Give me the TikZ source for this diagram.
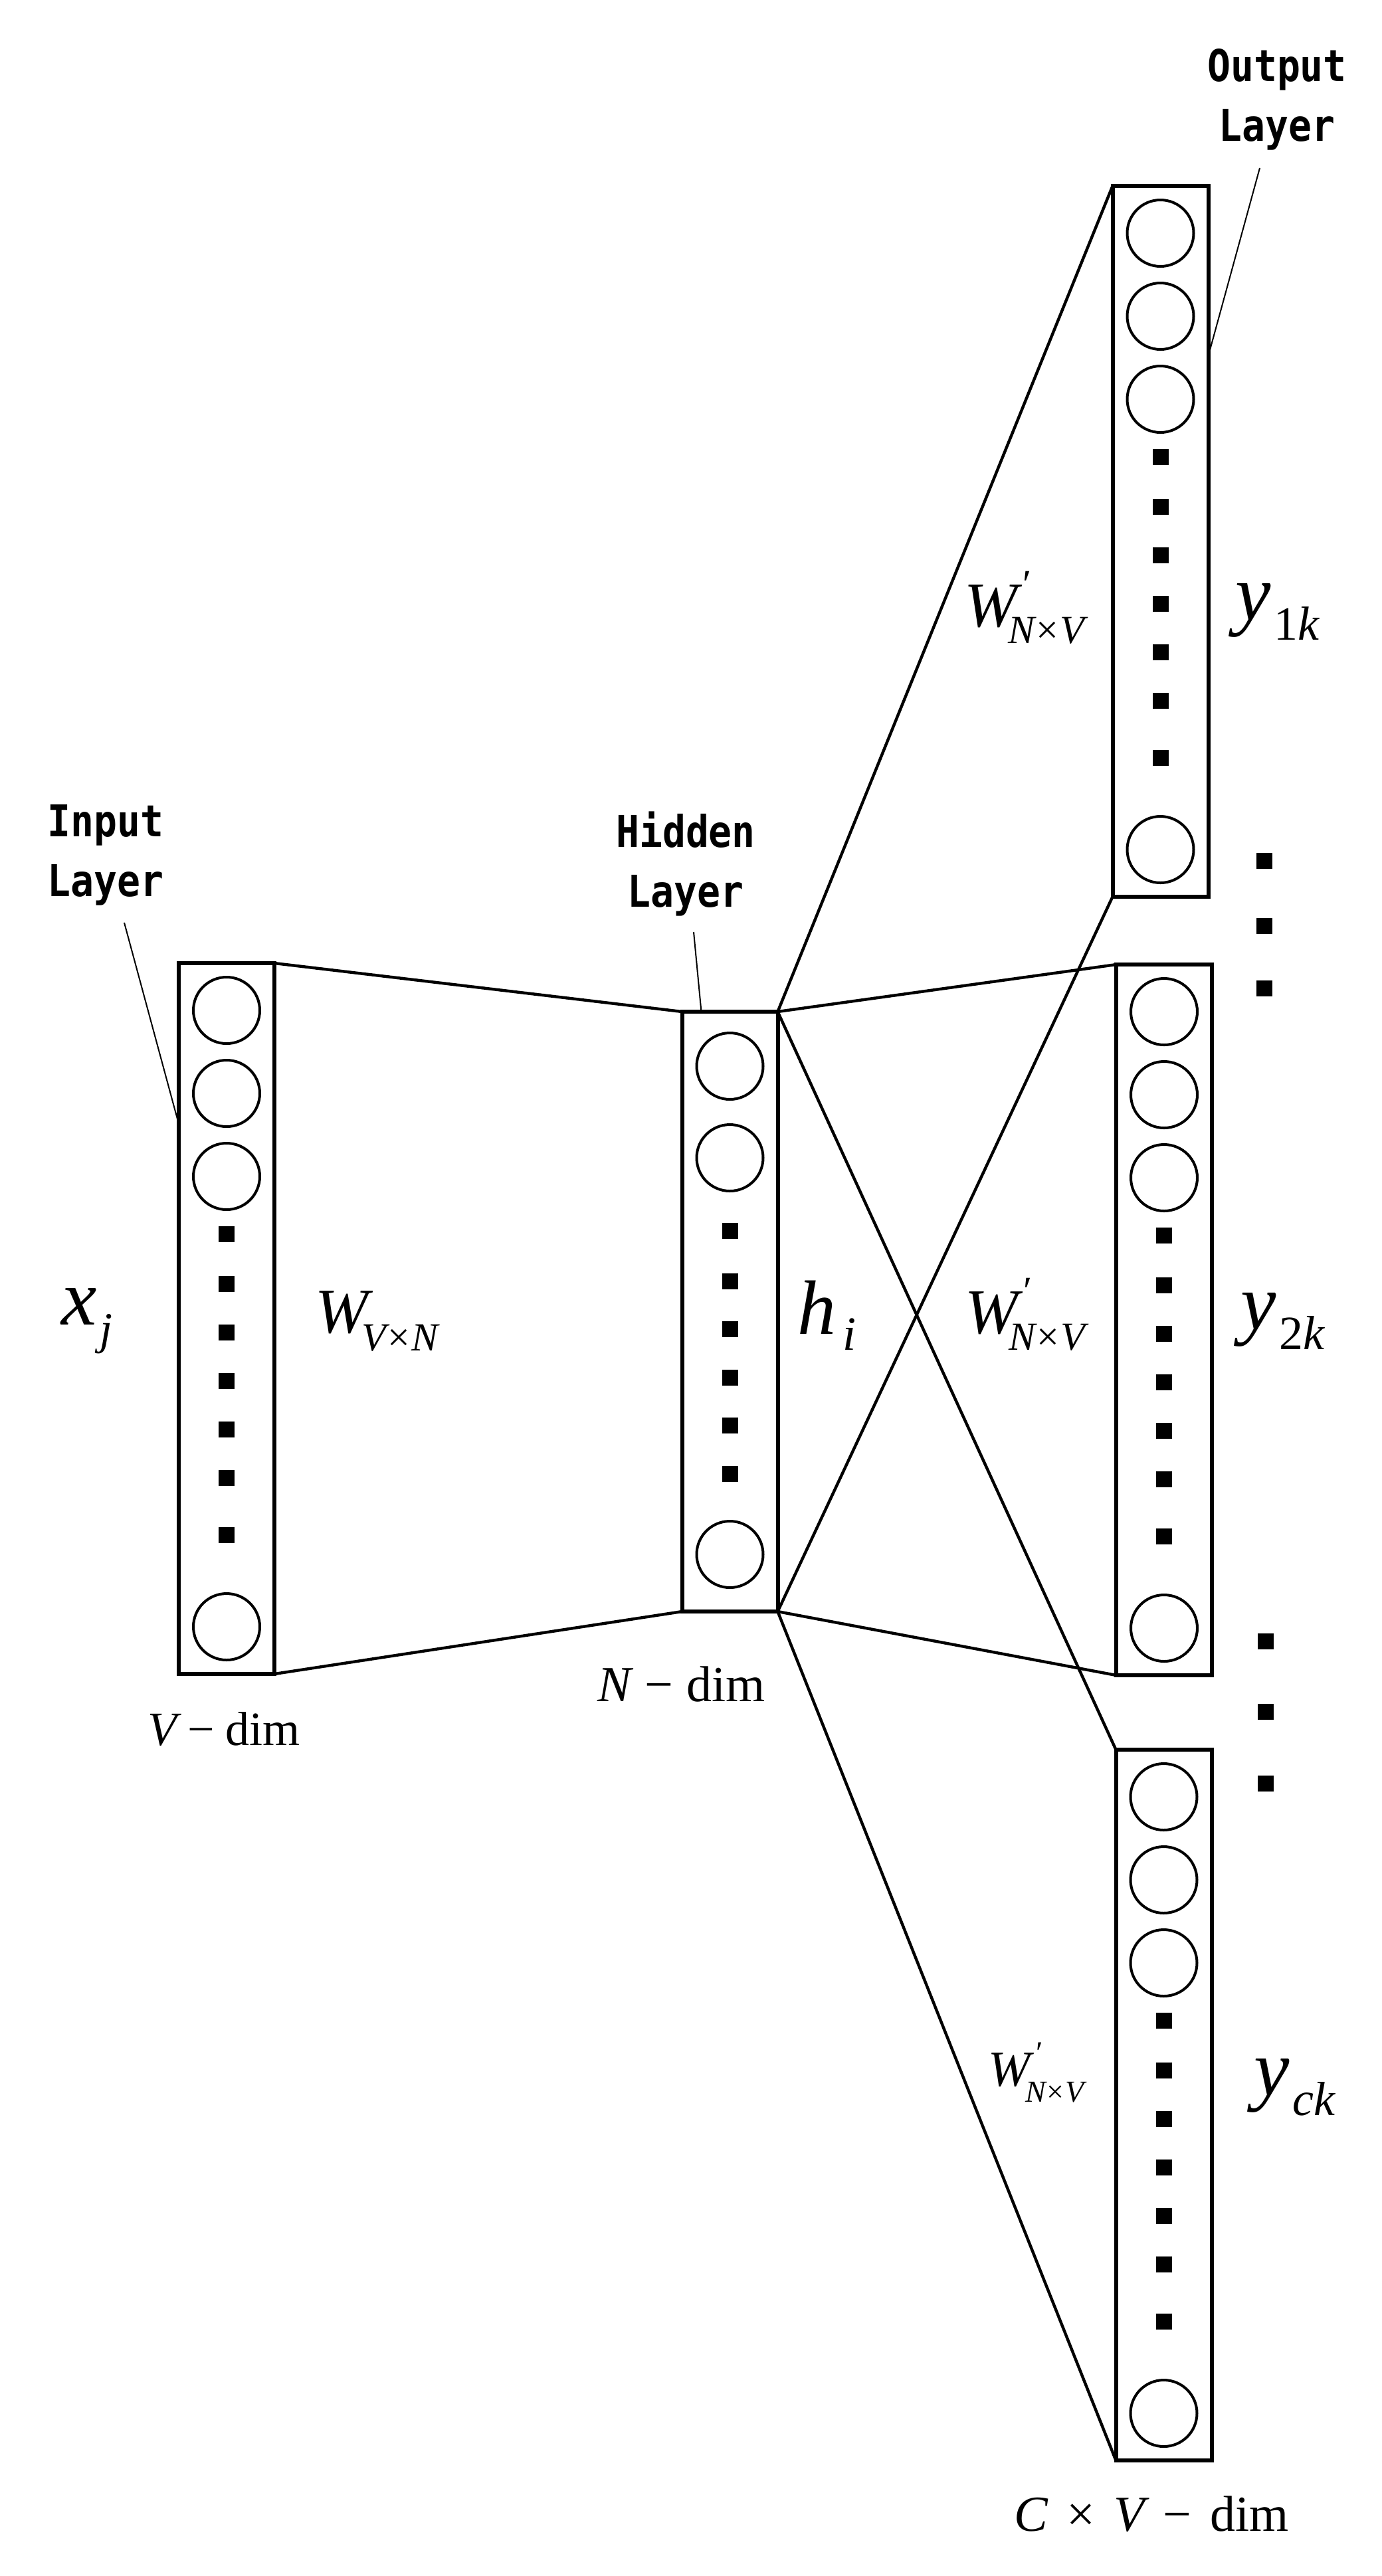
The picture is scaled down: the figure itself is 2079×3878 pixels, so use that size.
\documentclass[tikz,border=0pt]{standalone}
\usepackage{fontspec}
\setmainfont{Liberation Serif}
\newfontfamily\lblfont{DejaVu Sans Mono}
\newcommand\mycol[3]{% name, cx, top
  \node[colbox] (#1) at (#2,#3+535) {};
  \foreach \o [count=\i] in {71,196,321,999}
    \node[neuron] (#1-c\i) at (#2,#3+\o) {};
  \foreach \o [count=\i] in {408,483,556,629,702,775,861}
    \node[dotsq] (#1-d\i) at (#2,#3+\o) {};
}
% #1 W size, #2 prime size, #3 prime raise, #4 sub size, #5 sub lower, #6 sub kern, #7 prime kern
\newcommand\wprime[7]{%
  {\fontsize{#1}{#1}\selectfont\itshape W\rlap{\kern#7\raisebox{#3}{\fontsize{#2}{#2}\selectfont\upshape ′}}\kern#6\raisebox{-#5}{\fontsize{#4}{#4}\selectfont N\kern0.5pt\upshape×\kern0.5pt\itshape V}}}
\begin{document}
\begin{tikzpicture}[x=0.25pt,y=-0.25pt,
  colbox/.style={draw,line width=1.5pt,minimum width=36pt,minimum height=267.5pt,inner sep=0pt,outer sep=0pt},
  hidbox/.style={colbox,minimum height=225.75pt},
  neuron/.style={draw,circle,line width=1pt,minimum size=25pt,inner sep=0pt},
  dotsq/.style={fill,minimum size=6pt,inner sep=0pt},
  conn/.style={line width=1.1pt},
  leader/.style={line width=0.5pt},
  lbl/.style={font=\lblfont\bfseries\fontsize{16.5}{22.5}\selectfont,xscale=0.88,align=center,inner sep=0pt},
  mlab/.style={anchor=base west,inner sep=0pt}]
\useasboundingbox (0,0) rectangle (2079,3878);
\fill[white] (0,0) rectangle (2079,3878);

% columns
\mycol{in}{341}{1450}
\mycol{o1}{1746.5}{280}
\mycol{o2}{1752}{1452}
\mycol{o3}{1751.5}{2634}

% hidden layer
\node[hidbox] (hid) at (1098.5,1974.5) {};
\foreach \o [count=\i] in {82,220,817}
  \node[neuron] (hid-c\i) at (1098.5,1523+\o) {};
\foreach \o [count=\i] in {330,406,478,551,623,696}
  \node[dotsq] (hid-d\i) at (1098.5,1523+\o) {};

% side dots
\foreach \y [count=\i] in {1296,1394,1488}
  \node[dotsq] (sa\i) at (1903,\y) {};
\foreach \y [count=\i] in {2471,2577,2685}
  \node[dotsq] (sb\i) at (1905,\y) {};

% connectors
\draw[conn] (in.north east) -- (hid.north west);
\draw[conn] (in.south east) -- (hid.south west);
\foreach \o in {o1,o2,o3}{
  \draw[conn] (hid.north east) -- (\o.north west);
  \draw[conn] (hid.south east) -- (\o.south west);
}

% layer labels and leaders
\node[lbl] (inlbl) at (159,1287) {Input\\Layer};
\node[lbl] (hidlbl) at (1032,1300) {Hidden\\Layer};
\node[lbl] (outlbl) at (1922,150) {Output\\Layer};
\coordinate (inL) at (187,1389);
\coordinate (hidL) at (1044,1403);
\coordinate (outL) at (1896,253);
\draw[leader] (inL) -- ([yshift=-60.5pt]in.north west);
\draw[leader] (hidL) -- ([xshift=7.25pt]hid.north west);
\draw[leader] (outL) -- ([yshift=-64pt]o1.north east);

% math labels
\node[mlab] (xj) at (92,1994) {\fontsize{30}{32}\selectfont\itshape x\kern1pt\raisebox{-7.25pt}{\fontsize{17}{20}\selectfont j}};
\node[mlab] (wvn) at (474,2006) {\fontsize{24}{26}\selectfont\itshape W\kern-2.5pt\raisebox{-6.75pt}{\fontsize{15}{17}\selectfont V\kern0.5pt\upshape×\kern0.5pt\itshape N}};
\node[mlab] (hi) at (1200,2008) {\fontsize{29}{31}\selectfont\itshape h\kern2.5pt\raisebox{-6pt}{\fontsize{18}{20}\selectfont i}};
\node[mlab] (w1) at (1451,943) {\wprime{24pt}{15pt}{11pt}{15pt}{6.25pt}{-3.5pt}{2pt}};
\node[mlab] (w2) at (1452,2007) {\wprime{24pt}{15pt}{11pt}{15pt}{6.25pt}{-3.5pt}{2pt}};
\node[mlab] (w3) at (1487,3140) {\wprime{19pt}{12pt}{8.5pt}{11.5pt}{6pt}{-2pt}{2pt}};
\node[mlab] (y1) at (1859,933) {\fontsize{30}{32}\selectfont\itshape y\kern1pt\raisebox{-7.5pt}{\fontsize{18}{20}\selectfont\upshape 1\itshape k}};
\node[mlab] (y2) at (1867,2001) {\fontsize{30}{32}\selectfont\itshape y\kern1pt\raisebox{-7.5pt}{\fontsize{18}{20}\selectfont\upshape 2\itshape k}};
\node[mlab] (yc) at (1887,3154) {\fontsize{30}{32}\selectfont\itshape y\kern1pt\raisebox{-7.5pt}{\fontsize{18}{20}\selectfont ck}};

% dimension labels
\node[mlab] (vdim) at (222,2627) {\fontsize{18}{20}\selectfont{\itshape V}\kern4pt−\kern4pt dim};
\node[mlab] (ndim) at (899,2561) {\fontsize{19}{21}\selectfont{\itshape N}\kern5pt−\kern5pt dim};
\node[mlab] (cdim) at (1526,3810) {\fontsize{19}{21}\selectfont{\itshape C}\kern7pt×\kern7pt{\itshape V}\kern7pt−\kern7pt dim};
\end{tikzpicture}
\end{document}
